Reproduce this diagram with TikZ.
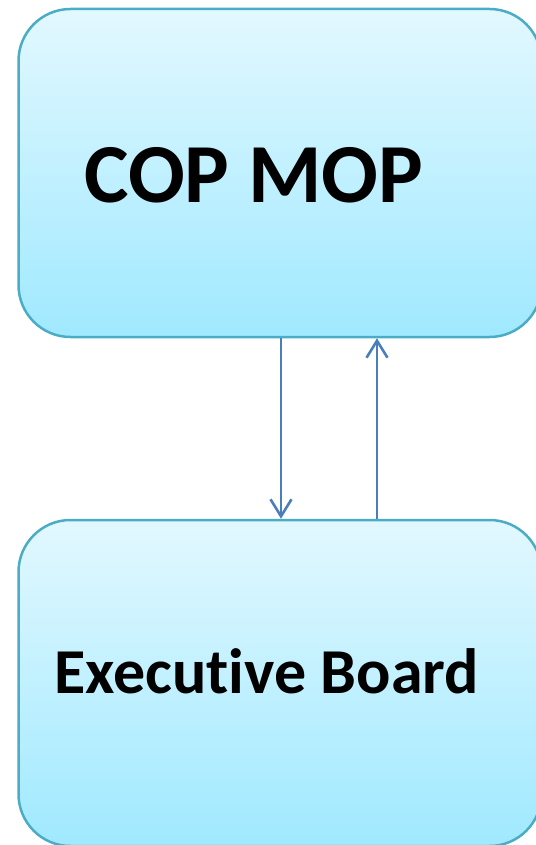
\documentclass[tikz,border=0pt]{standalone}
\usepackage{fontspec}
\setmainfont{Carlito}[Ligatures=NoCommon]
\usetikzlibrary{arrows.meta}
\definecolor{boxline}{RGB}{75,172,198}
\definecolor{boxtop}{RGB}{226,248,255}
\definecolor{boxbot}{RGB}{160,233,255}
\definecolor{arrblue}{RGB}{74,126,187}
\tikzset{
  panel/.style={draw=boxline, line width=2.5pt, rounded corners=52pt,
    top color=boxtop, bottom color=boxbot, inner sep=0pt},
  arr/.style={draw=arrblue, line width=2.6pt,
    -{Straight Barb[length=17pt,width=21pt,line width=2.6pt]}},
  bigtext/.style={font=\fontsize{84}{84}\selectfont\bfseries, inner sep=0pt, anchor=base west},
  midtext/.style={font=\fontsize{64}{64}\selectfont\bfseries, inner sep=0pt, anchor=base west}
}
\begin{document}
\begin{tikzpicture}[x=1pt,y=-1pt]
\useasboundingbox (0,0) rectangle (535,845);
\node[panel, minimum width=523pt, minimum height=328pt] (top) at (280,173) {};
\node[panel, minimum width=523pt, minimum height=326pt] (bot) at (280,683) {};
\node[bigtext] (toptext) at (84,202) {COP MOP};
\node[midtext] (bottext) at (54,693) {Execut\kern0pt ive Board};
\coordinate (xl) at (281,0);
\coordinate (xr) at (377,0);
\draw[arr] (xl |- top.south) -- (xl |- bot.north);
\draw[arr] (xr |- bot.north) -- (xr |- top.south);
\end{tikzpicture}
\end{document}
